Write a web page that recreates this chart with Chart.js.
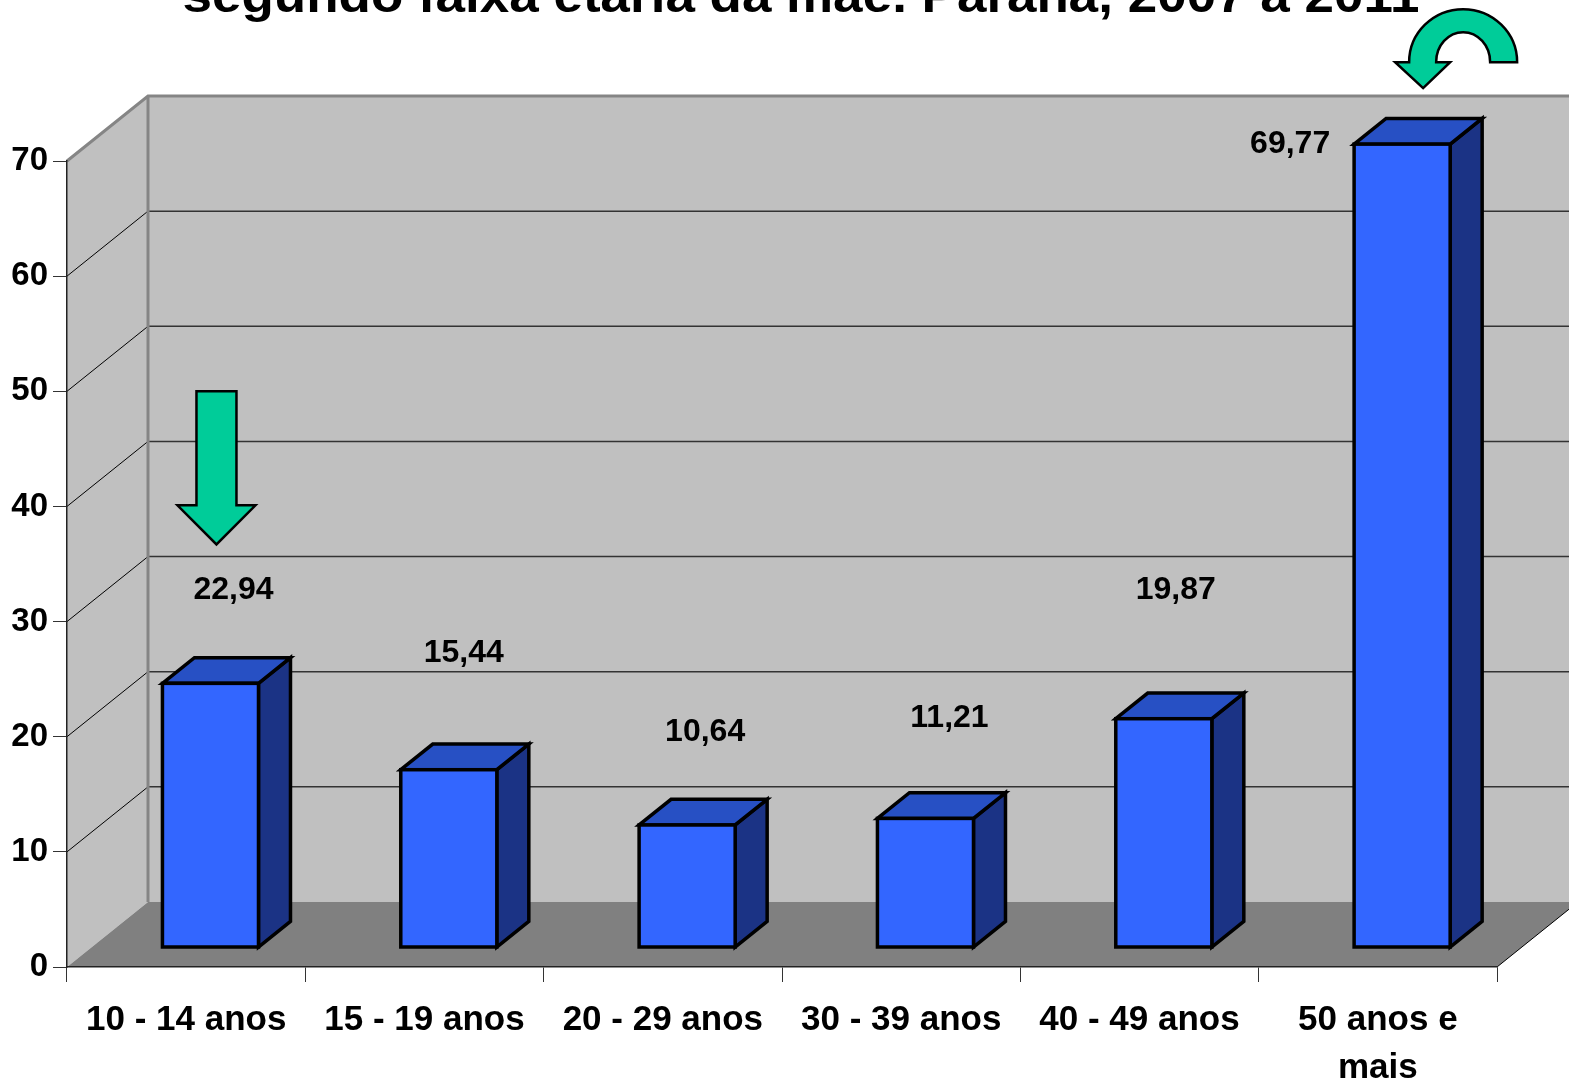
<!DOCTYPE html>
<html>
<head>
<meta charset="utf-8">
<script src="https://cdn.jsdelivr.net/npm/chart.js@4.4.0/dist/chart.umd.min.js"></script>
<style>
    html, body { margin: 0; padding: 0; background: #ffffff; }
    #wrap { width: 1569px; height: 1083px; position: relative; }
</style>
</head>
<body>
<div id="wrap"><canvas id="taxaChart" width="1569" height="1083"></canvas></div>
<script>
// dados do gráfico
const faixas = ["10 - 14 anos", "15 - 19 anos", "20 - 29 anos", "30 - 39 anos", "40 - 49 anos", ["50 anos e", "mais"]];
const taxas = [22.94, 15.44, 10.64, 11.21, 19.87, 69.77];
const eixoMin = 0;
const eixoMax = 70;
const eixoPasso = 10;

// deslocamento dos rótulos em relação ao topo de cada barra (como no original)
const rotuloDx = [23, 15, 18, 24, 12, -112];
const rotuloDy = [-93, -117, -93, -100, -129, 0];

const titulo = "segundo faixa etária da mãe. Paraná, 2007 a 2011";

const PROF = { x: 81, y: -65 }; // profundidade do 3D
const FRENTE = 0.3;   // face frontal da barra
const FUNDO = 0.695;  // face de trás da barra

function fmt(v) {
    return v.toFixed(2).replace(".", ",");
}

const paredes3d = {
    id: "paredes3d",
    beforeDraw(chart) {
        const { ctx, chartArea: a, scales } = chart;
        const y = scales.y;
        const yTop = y.getPixelForValue(eixoMax);
        const yBot = y.getPixelForValue(eixoMin);
        const dx = PROF.x, dy = PROF.y;
        ctx.save();
        // parede do fundo
        ctx.fillStyle = "#c0c0c0";
        ctx.fillRect(a.left + dx, yTop + dy, a.right - a.left, yBot - yTop);
        // parede lateral
        ctx.beginPath();
        ctx.moveTo(a.left, yTop);
        ctx.lineTo(a.left + dx, yTop + dy);
        ctx.lineTo(a.left + dx, yBot + dy);
        ctx.lineTo(a.left, yBot);
        ctx.closePath();
        ctx.fill();
        // piso
        ctx.fillStyle = "#808080";
        ctx.beginPath();
        ctx.moveTo(a.left, yBot);
        ctx.lineTo(a.right, yBot);
        ctx.lineTo(a.right + dx, yBot + dy);
        ctx.lineTo(a.left + dx, yBot + dy);
        ctx.closePath();
        ctx.fill();
        ctx.strokeStyle = "#000";
        ctx.lineWidth = 1;
        ctx.beginPath();
        ctx.moveTo(a.right, yBot);
        ctx.lineTo(a.right + dx, yBot + dy);
        ctx.stroke();
        // linhas de grade
        for (let v = eixoMin + eixoPasso; v < eixoMax; v += eixoPasso) {
            const py = y.getPixelForValue(v);
            ctx.strokeStyle = "#333";
            ctx.lineWidth = 1.5;
            ctx.beginPath();
            ctx.moveTo(a.left + dx, py + dy);
            ctx.lineTo(a.right + dx, py + dy);
            ctx.stroke();
            ctx.strokeStyle = "#000";
            ctx.lineWidth = 1;
            ctx.beginPath();
            ctx.moveTo(a.left, py);
            ctx.lineTo(a.left + dx, py + dy);
            ctx.stroke();
        }
        // bordas cinzas
        ctx.strokeStyle = "#858585";
        ctx.lineWidth = 3;
        ctx.beginPath();
        ctx.moveTo(a.left, yTop);
        ctx.lineTo(a.left + dx, yTop + dy);
        ctx.lineTo(a.right + dx, yTop + dy);
        ctx.moveTo(a.left + dx, yTop + dy);
        ctx.lineTo(a.left + dx, yBot + dy);
        ctx.stroke();
        ctx.restore();
    },
    afterDatasetsDraw(chart) {
        const { ctx } = chart;
        const meta = chart.getDatasetMeta(0);
        const fx = PROF.x * FRENTE, fy = PROF.y * FRENTE;
        const px = PROF.x * (FUNDO - FRENTE), py = PROF.y * (FUNDO - FRENTE);
        ctx.save();
        ctx.lineWidth = 3.5;
        ctx.strokeStyle = "#000";
        ctx.lineJoin = "miter";
        meta.data.forEach(function (bar, i) {
            const l = bar.x - bar.width / 2 + fx;
            const r = bar.x + bar.width / 2 + fx;
            const t = bar.y + fy;
            const b = bar.base + fy;
            // lateral
            ctx.fillStyle = "#1b3385";
            ctx.beginPath();
            ctx.moveTo(r, t);
            ctx.lineTo(r + px, t + py);
            ctx.lineTo(r + px, b + py);
            ctx.lineTo(r, b);
            ctx.closePath();
            ctx.fill();
            ctx.stroke();
            // topo
            ctx.fillStyle = "#2750c4";
            ctx.beginPath();
            ctx.moveTo(l, t);
            ctx.lineTo(l + px, t + py);
            ctx.lineTo(r + px, t + py);
            ctx.lineTo(r, t);
            ctx.closePath();
            ctx.fill();
            ctx.stroke();
            // frente
            ctx.fillStyle = "#3366ff";
            ctx.fillRect(l, t, r - l, b - t);
            ctx.strokeRect(l, t, r - l, b - t);

            // rótulo do valor
            ctx.fillStyle = "#000";
            ctx.font = "bold 32px 'Liberation Sans', Arial, sans-serif";
            ctx.textAlign = "center";
            ctx.textBaseline = "middle";
            ctx.fillText(fmt(taxas[i]), (l + r) / 2 + rotuloDx[i], t + rotuloDy[i]);
        });

        // setas verdes
        ctx.fillStyle = "#00cc99";
        ctx.strokeStyle = "#000";
        ctx.lineWidth = 2.5;
        // seta para baixo sobre a primeira barra
        const b0 = meta.data[0];
        const cx = b0.x + fx + 6;
        const tip = b0.y + fy - 139;
        ctx.beginPath();
        ctx.moveTo(cx - 20, tip - 153);
        ctx.lineTo(cx + 20, tip - 153);
        ctx.lineTo(cx + 20, tip - 39);
        ctx.lineTo(cx + 39, tip - 39);
        ctx.lineTo(cx, tip);
        ctx.lineTo(cx - 39, tip - 39);
        ctx.lineTo(cx - 20, tip - 39);
        ctx.closePath();
        ctx.fill();
        ctx.stroke();

        // seta curva sobre a última barra
        const b5 = meta.data[5];
        const ax = b5.x + fx + 61;
        const ay = b5.y + fy - 82;
        ctx.beginPath();
        ctx.moveTo(ax - 54, ay);
        ctx.ellipse(ax, ay, 54, 53, 0, Math.PI, 2 * Math.PI);
        ctx.lineTo(ax + 27, ay);
        ctx.ellipse(ax, ay, 27, 30, 0, 0, Math.PI, true);
        ctx.lineTo(ax - 13, ay);
        ctx.lineTo(ax - 40, ay + 26);
        ctx.lineTo(ax - 68, ay);
        ctx.closePath();
        ctx.fill();
        ctx.stroke();
        ctx.restore();
    },
    afterDraw(chart) {
        // título (cortado no topo, como no original)
        const { ctx } = chart;
        ctx.save();
        ctx.font = "bold 48px 'Liberation Sans', Arial, sans-serif";
        ctx.fillStyle = "#000";
        ctx.textBaseline = "alphabetic";
        ctx.textAlign = "center";
        const w = ctx.measureText(titulo).width;
        ctx.translate(801, 12);
        ctx.scale(1237 / w, 1);
        ctx.fillText(titulo, 0, 0);
        ctx.restore();
    },
};

const ctx = document.getElementById("taxaChart").getContext("2d");
new Chart(ctx, {
    type: "bar",
    data: {
        labels: faixas,
        datasets: [
            {
                label: "Taxa",
                data: taxas,
                backgroundColor: "rgba(0,0,0,0)", // desenhado pelo plugin 3D
                borderWidth: 0,
                barPercentage: 0.403,
                categoryPercentage: 1,
            },
        ],
    },
    options: {
        responsive: false,
        animation: false,
        layout: {
            padding: { top: 161, right: 72, left: 0, bottom: 0 },
        },
        plugins: {
            legend: { display: false },
            tooltip: { enabled: false },
            title: { display: false },
        },
        scales: {
            x: {
                afterFit: function (s) { s.height = 116; },
                grid: {
                    offset: true,
                    drawOnChartArea: false,
                    drawTicks: true,
                    tickLength: 15,
                    color: "#333",
                },
                border: { display: true, color: "#222", width: 1.5 },
                ticks: {
                    color: "#000",
                    padding: 14,
                    maxRotation: 0,
                    autoSkip: false,
                    font: { family: "'Liberation Sans', Arial, sans-serif", size: 35, weight: "bold", lineHeight: 1.37 },
                },
            },
            y: {
                min: eixoMin,
                max: eixoMax,
                afterFit: function (s) { s.width = 67; },
                grid: {
                    drawOnChartArea: false,
                    drawTicks: true,
                    tickLength: 14,
                    color: "#333",
                },
                border: { display: true, color: "#222", width: 1.5 },
                ticks: {
                    stepSize: eixoPasso,
                    color: "#000",
                    padding: 5,
                    font: { family: "'Liberation Sans', Arial, sans-serif", size: 33, weight: "bold" },
                },
            },
        },
    },
    plugins: [paredes3d],
});
</script>
</body>
</html>
